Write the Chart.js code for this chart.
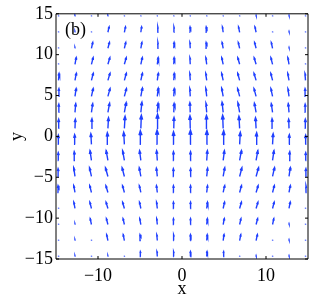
<!DOCTYPE html>
<html><head><meta charset="utf-8">
<script src="https://cdn.jsdelivr.net/npm/chart.js@4/dist/chart.umd.min.js"></script>
<style>html,body{margin:0;padding:0;background:#fff;overflow:hidden}#wrap{width:311px;height:300px}</style>
</head><body><div id="wrap"><canvas id="c" width="311" height="300"></canvas></div>
<script>
// grid of arrow tails (data units)
const xGrid = [-14.7,-12.74,-10.78,-8.82,-6.86,-4.9,-2.94,-0.98,0.98,2.94,4.9,6.86,8.82,10.78,12.74,14.7];
const yGrid = [14.7,12.74,10.78,8.82,6.86,4.9,2.94,0.98,-0.98,-2.94,-4.9,-6.86,-8.82,-10.78,-12.74,-14.7];
// horizontal components (row = yGrid, column = xGrid)
const U = [
 [0,0,0,0,0,0,0,0, 0,0,0,0,0,0,0,0],
 [0,0,0,0.14,0.13,0.09,0.06,0.02, -0.02,-0.06,-0.09,-0.13,-0.14,0,0,0],
 [0,0,0.15,0.18,0.16,0.13,0.07,0.04, -0.04,-0.07,-0.13,-0.16,-0.18,-0.15,0,0],
 [0,0.14,0.20,0.23,0.22,0.17,0.10,0.04, -0.04,-0.10,-0.17,-0.22,-0.23,-0.20,-0.14,0],
 [0.06,0.15,0.21,0.25,0.23,0.18,0.11,0.05, -0.05,-0.11,-0.18,-0.23,-0.25,-0.21,-0.15,-0.06],
 [0.05,0.13,0.20,0.25,0.24,0.18,0.11,0.05, -0.05,-0.11,-0.18,-0.24,-0.25,-0.20,-0.13,-0.05],
 [0.04,0.09,0.15,0.20,0.21,0.13,0.09,0.04, -0.04,-0.09,-0.13,-0.21,-0.20,-0.15,-0.09,-0.04],
 [0.02,0.04,0.06,0.07,0.08,0.06,0.03,0.03, -0.03,-0.03,-0.06,-0.08,-0.07,-0.06,-0.04,-0.02],
 [-0.02,-0.04,-0.07,-0.07,-0.08,-0.06,-0.03,-0.03, 0.03,0.03,0.06,0.08,0.07,0.07,0.04,0.02],
 [-0.03,-0.09,-0.17,-0.21,-0.21,-0.15,-0.08,-0.04, 0.04,0.08,0.15,0.21,0.21,0.17,0.09,0.03],
 [-0.05,-0.15,-0.23,-0.29,-0.27,-0.19,-0.11,-0.05, 0.05,0.11,0.19,0.27,0.29,0.23,0.15,0.05],
 [-0.06,-0.15,-0.21,-0.24,-0.22,-0.18,-0.10,-0.04, 0.04,0.10,0.18,0.22,0.24,0.21,0.15,0.06],
 [0,-0.14,-0.19,-0.22,-0.21,-0.16,-0.09,-0.04, 0.04,0.09,0.16,0.21,0.22,0.19,0.14,0],
 [0,0,-0.15,-0.18,-0.16,-0.13,-0.07,-0.04, 0.04,0.07,0.13,0.16,0.18,0.15,0,0],
 [0,0,0,-0.15,-0.14,-0.10,-0.06,-0.02, 0.02,0.06,0.10,0.14,0.15,0,0,0],
 [0,0,0,0,0,-0.06,-0.04,-0.02, 0.02,0.04,0.06,0,0,0,0,0]
];
// vertical components
const V = [
 [0.1,0.1,0.1,0.1,0.1,0.1,0.1,0.1, 0.1,0.1,0.1,0.1,0.1,0.1,0.1,0.1],
 [0.1,0.1,0.1,0.65,0.65,0.65,0.65,0.65, 0.65,0.65,0.65,0.65,0.65,0.1,0.1,0.1],
 [0.1,0.1,0.71,0.71,0.71,0.71,0.71,0.71, 0.71,0.71,0.71,0.71,0.71,0.71,0.1,0.1],
 [0.1,0.81,0.81,0.81,0.81,0.81,0.81,0.81, 0.81,0.81,0.81,0.81,0.81,0.81,0.81,0.1],
 [0.85,0.86,0.86,0.86,0.86,0.86,0.86,0.86, 0.86,0.86,0.86,0.86,0.86,0.86,0.86,0.85],
 [0.95,0.95,0.95,0.95,0.95,1.01,1.01,0.95, 0.95,1.01,1.01,0.95,0.95,0.95,0.95,0.95],
 [1.01,1.07,1.07,1.13,1.19,1.25,1.13,1.10, 1.20,1.13,1.25,1.19,1.13,1.07,1.07,1.01],
 [1.13,1.13,1.19,1.31,1.49,1.61,1.75,1.35, 1.55,1.60,1.61,1.49,1.31,1.19,1.13,1.13],
 [1.13,1.19,1.31,1.43,1.49,1.67,1.75,1.55, 1.75,1.70,1.67,1.49,1.43,1.31,1.19,1.13],
 [0.95,1.07,1.19,1.19,1.19,1.19,1.19,1.07, 1.07,1.19,1.19,1.19,1.19,1.19,1.07,0.95],
 [0.95,1.07,1.07,1.07,1.07,1.07,1.01,0.95, 0.95,1.01,1.07,1.07,1.07,1.07,1.07,0.95],
 [0.83,0.83,0.83,0.83,0.83,0.83,0.83,0.83, 0.83,0.83,0.83,0.83,0.83,0.83,0.83,0.83],
 [0.1,0.77,0.77,0.77,0.77,0.77,0.77,0.77, 0.77,0.77,0.77,0.77,0.77,0.77,0.77,0.1],
 [0.1,0.1,0.71,0.71,0.71,0.71,0.71,0.71, 0.71,0.71,0.71,0.71,0.71,0.71,0.1,0.1],
 [0.1,0.1,0.1,0.71,0.71,0.71,0.71,0.71, 0.71,0.71,0.71,0.71,0.71,0.1,0.1,0.1],
 [0.1,0.1,0.1,0.1,0.1,0.6,0.6,0.6, 0.6,0.6,0.6,0.1,0.1,0.1,0.1,0.1]
];
const xTicks = [-10, 0, 10];
const yTicks = [-15, -10, -5, 0, 5, 10, 15];
const xTitle = 'x';
const yTitle = 'y';
const panelLabel = '(b)';

// arrows as line segments (quiver-style heads)
const pts = [];
const alpha = 0.33, beta = 0.33;
for (let i = 0; i < yGrid.length; i++) {
  for (let j = 0; j < xGrid.length; j++) {
    const x = xGrid[j], y = yGrid[i], u = U[i][j], v = V[i][j];
    const tx = x + u, ty = y + v;
    pts.push({x: x, y: y}, {x: tx, y: ty}, {x: tx, y: null});
    pts.push({x: tx - alpha * (u + beta * v), y: ty - alpha * (v - beta * u)},
             {x: tx, y: ty},
             {x: tx - alpha * (u - beta * v), y: ty - alpha * (v + beta * u)},
             {x: tx, y: null});
  }
}

const FONT = 'Liberation Serif, Times New Roman, serif';
const fmt = v => (v < 0 ? '\u2212' + Math.abs(v) : String(v));

const boxPlugin = {
  id: 'box',
  afterDraw(chart) {
    const {ctx, chartArea: a, scales} = chart;
    ctx.save();
    ctx.strokeStyle = '#000';
    ctx.lineWidth = 1;
    ctx.beginPath();
    ctx.rect(a.left, a.top, a.right - a.left, a.bottom - a.top);
    const tl = 3;
    xTicks.forEach(t => {
      const px = scales.x.getPixelForValue(t);
      ctx.moveTo(px, a.bottom); ctx.lineTo(px, a.bottom - tl);
      ctx.moveTo(px, a.top); ctx.lineTo(px, a.top + tl);
    });
    yTicks.forEach(t => {
      const py = scales.y.getPixelForValue(t);
      ctx.moveTo(a.left, py); ctx.lineTo(a.left + tl, py);
      ctx.moveTo(a.right, py); ctx.lineTo(a.right - tl, py);
    });
    ctx.stroke();
    ctx.fillStyle = '#000';
    ctx.font = '18px ' + FONT;
    ctx.textAlign = 'left';
    ctx.textBaseline = 'alphabetic';
    ctx.fillText(panelLabel, scales.x.getPixelForValue(-13.93), scales.y.getPixelForValue(12.38));
    ctx.restore();
  }
};

new Chart(document.getElementById('c').getContext('2d'), {
  type: 'line',
  data: {datasets: [{data: pts, borderColor: '#1f3fff', borderWidth: 1.4, pointRadius: 0,
    fill: false, spanGaps: false, tension: 0}]},
  options: {
    animation: false, responsive: false, devicePixelRatio: 1,
    events: [],
    plugins: {legend: {display: false}, tooltip: {enabled: false}},
    layout: {padding: {top: 7, right: 3, left: 0, bottom: 0}},
    scales: {
      x: {
        type: 'linear', min: -15, max: 15,
        afterBuildTicks: s => { s.ticks = xTicks.map(v => ({value: v})); },
        afterFit: s => { s.height = 41; },
        grid: {display: false, drawTicks: false}, border: {display: false},
        ticks: {font: {family: FONT, size: 18}, color: '#000', padding: 6, maxRotation: 0, autoSkip: false, callback: v => fmt(v)},
        title: {display: true, text: xTitle, color: '#000', font: {family: FONT, size: 18}, padding: 0}
      },
      y: {
        type: 'linear', min: -15, max: 15,
        afterBuildTicks: s => { s.ticks = yTicks.map(v => ({value: v})); },
        afterFit: s => { s.width = 56; },
        grid: {display: false, drawTicks: false}, border: {display: false},
        ticks: {font: {family: FONT, size: 18}, color: '#000', padding: 3, autoSkip: false, callback: v => fmt(v)},
        title: {display: true, text: yTitle, color: '#000', font: {family: FONT, size: 18}, padding: 6}
      }
    }
  },
  plugins: [boxPlugin]
});
</script></body></html>
